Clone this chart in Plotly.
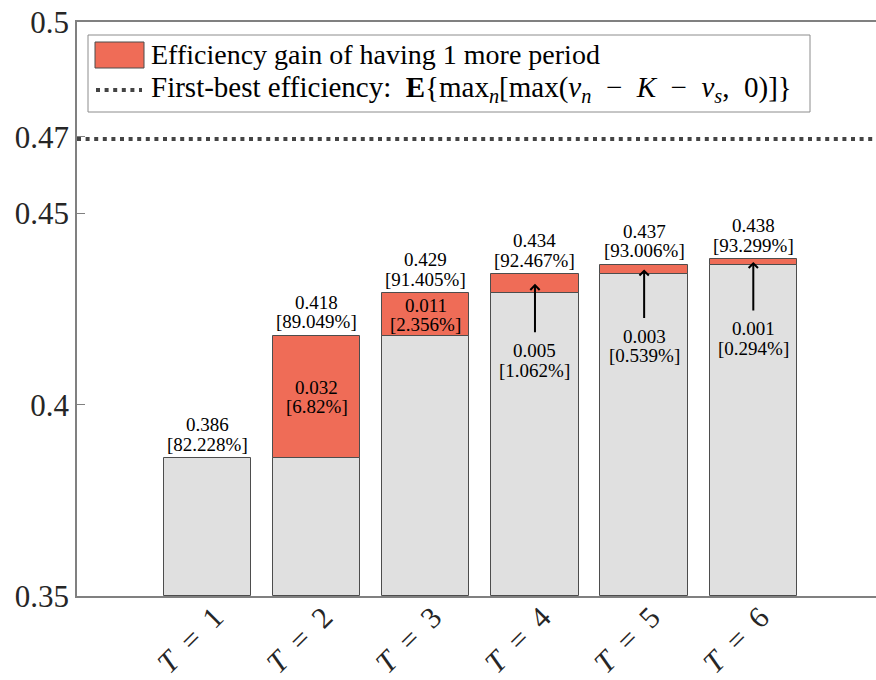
import plotly.graph_objects as go

# ---------------- data ----------------
periods = [1, 2, 3, 4, 5, 6]
tick_labels = ["<i>T</i>  =  1", "<i>T</i>  =  2", "<i>T</i>  =  3",
               "<i>T</i>  =  4", "<i>T</i>  =  5", "<i>T</i>  =  6"]
efficiency = [0.38600, 0.41802, 0.42908, 0.43407, 0.43660, 0.43798]
efficiency_pct = ["82.228", "89.049", "91.405", "92.467", "93.006", "93.299"]
gain_pct = ["", "6.82", "2.356", "1.062", "0.539", "0.294"]
first_best = 0.46943
y_ticks = [0.35, 0.4, 0.45, 0.47, 0.5]
y_tick_labels = ["0.35", "0.4", "0.45", "0.47", "0.5"]

# derived: previous-period efficiency and gain
prev_eff = [efficiency[0]] + efficiency[:-1]
gains = [e - p for e, p in zip(efficiency, prev_eff)]

# ---------------- style ----------------
FONT = "'Liberation Serif', 'Times New Roman', 'DejaVu Serif', serif"
GRAY = "#e0e0e0"
RED = "#ef6c57"
EDGE = "#4d4d4d"
Y0 = 0.35

W, H = 876, 680
ML, MT, MB, MR = 77, 22, 84, 0
PW, PH = W - ML - MR, H - MT - MB
PX_PER_UNIT = 109.16
X_LO = -0.1955


def px2x(px):
    return (px - ML) / PW


def py2y(py):
    return (H - MB - py) / PH


fig = go.Figure()

fig.add_trace(go.Bar(
    x=periods, y=[p - Y0 for p in prev_eff], base=Y0, width=0.8,
    marker=dict(color=GRAY, line=dict(color=EDGE, width=1)),
    showlegend=False, hoverinfo="skip"))

fig.add_trace(go.Bar(
    x=periods[1:], y=gains[1:], base=prev_eff[1:], width=0.8,
    marker=dict(color=RED, line=dict(color=EDGE, width=1)),
    showlegend=False, hoverinfo="skip"))

annotations = []
lab_font = dict(family=FONT, size=19, color="black")

# total labels above bars
for x, e, pc in zip(periods, efficiency, efficiency_pct):
    annotations.append(dict(x=x, y=e, xref="x", yref="y", text="%.3f" % e,
                            showarrow=False, yshift=33.5, font=lab_font,
                            xanchor="center", yanchor="middle"))
    annotations.append(dict(x=x, y=e, xref="x", yref="y", text="[%s%%]" % pc,
                            showarrow=False, yshift=14, font=lab_font,
                            xanchor="center", yanchor="middle"))

# gain labels
for i in range(1, len(periods)):
    x = periods[i]
    mid = (efficiency[i] + prev_eff[i]) / 2
    g = gains[i]
    if g > 0.008:
        annotations.append(dict(x=x, y=mid, xref="x", yref="y", text="%.3f" % g,
                                showarrow=False, yshift=9.5, font=lab_font))
        annotations.append(dict(x=x, y=mid, xref="x", yref="y",
                                text="[%s%%]" % gain_pct[i],
                                showarrow=False, yshift=-9.5, font=lab_font))
    else:
        annotations.append(dict(x=x, y=mid, xref="x", yref="y", text="",
                                showarrow=True, ax=0, ay=50, arrowhead=4,
                                arrowsize=0.9, arrowwidth=2, arrowcolor="black",
                                standoff=0))
        annotations.append(dict(x=x, y=mid, xref="x", yref="y", text="%.3f" % g,
                                showarrow=False, yshift=-67, font=lab_font))
        annotations.append(dict(x=x, y=mid, xref="x", yref="y",
                                text="[%s%%]" % gain_pct[i],
                                showarrow=False, yshift=-86.5, font=lab_font))

# manual legend
shapes = [
    dict(type="line", xref="paper", yref="y", x0=0, x1=1, y0=first_best, y1=first_best,
         line=dict(color="#444444", width=4, dash="4px,4.6px"), layer="above"),
    dict(type="rect", xref="paper", yref="paper", x0=px2x(88), x1=px2x(810),
         y0=py2y(112), y1=py2y(35), line=dict(color="#8c8c8c", width=1),
         fillcolor="white", layer="above"),
    dict(type="rect", xref="paper", yref="paper", x0=px2x(95), x1=px2x(144),
         y0=py2y(68), y1=py2y(42), line=dict(color=EDGE, width=1),
         fillcolor=RED, layer="above"),
    dict(type="line", xref="paper", yref="paper", x0=px2x(96), x1=px2x(142),
         y0=py2y(90), y1=py2y(90),
         line=dict(color="#444444", width=4, dash="4px,4.6px"), layer="above"),
]
annotations.append(dict(x=px2x(149), y=py2y(55), xref="paper", yref="paper",
                        text="Efficiency gain of having 1 more period",
                        showarrow=False, xanchor="left", yanchor="middle",
                        font=dict(family=FONT, size=28, color="black")))
annotations.append(dict(x=px2x(149), y=py2y(89), xref="paper", yref="paper",
                        text="First-best efficiency:  <b>E</b>{max<sub><i>n</i></sub>[max(<i>v<sub>n</sub></i>  −  <i>K</i>  −  <i>v<sub>s</sub></i>,  0)]}",
                        showarrow=False, xanchor="left", yanchor="middle",
                        font=dict(family=FONT, size=29, color="black")))

fig.update_layout(
    width=W, height=H,
    margin=dict(l=ML, r=MR, t=MT, b=MB, pad=0, autoexpand=False),
    paper_bgcolor="white", plot_bgcolor="white",
    barmode="overlay", bargap=0,
    font=dict(family=FONT, color="#262626"),
    shapes=shapes, annotations=annotations,
    xaxis=dict(range=[X_LO, X_LO + PW / PX_PER_UNIT], tickvals=periods,
               ticktext=tick_labels, tickangle=-45, ticks="", automargin=False,
               ticklabelstandoff=-10, ticklabelshift=7,
               tickfont=dict(family=FONT, size=30, color="#262626"),
               showline=True, linecolor="#808080", linewidth=1.5, mirror=True,
               showgrid=False, zeroline=False, fixedrange=True),
    yaxis=dict(range=[0.35, 0.5], tickvals=y_ticks, ticktext=y_tick_labels,
               ticks="inside", ticklen=8, tickcolor="#808080", automargin=False,
               tickfont=dict(family=FONT, size=31, color="#262626"),
               showline=True, linecolor="#808080", linewidth=1.5, mirror=False,
               showgrid=False, zeroline=False, fixedrange=True),
)

fig.write_html("out.html", config={"displayModeBar": False},
               post_script="document.body.style.margin='0px';")
